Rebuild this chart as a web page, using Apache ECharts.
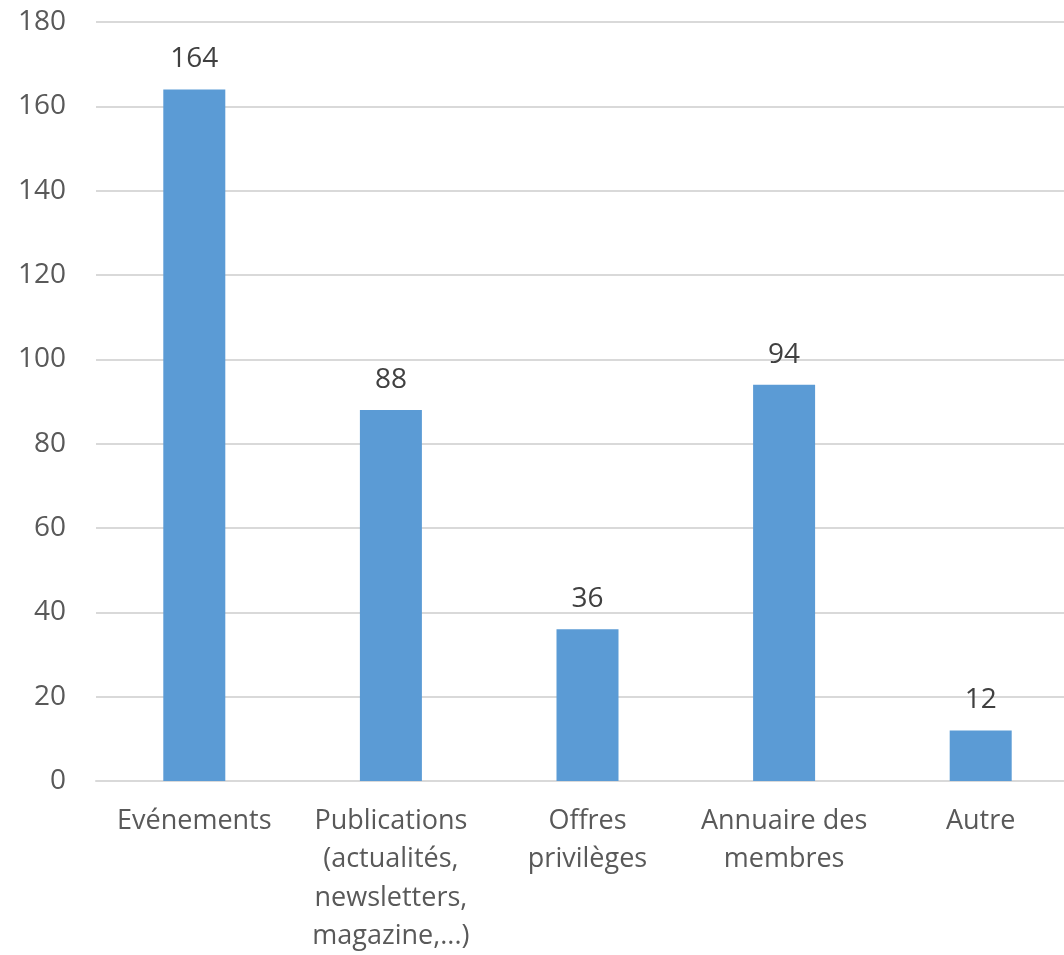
<!DOCTYPE html>
<html><head><meta charset="utf-8">
<script src="https://cdn.jsdelivr.net/npm/echarts@6/dist/echarts.min.js"></script>
<style>html,body{margin:0;padding:0;background:#fff}#c{width:1064px;height:955px}</style>
</head><body><div id="c"></div>
<script>
const categories = ["Evénements", "Publications\n(actualités,\nnewsletters,\nmagazine,...)", "Offres\nprivilèges", "Annuaire des\nmembres", "Autre"];
const values = [164, 88, 36, 94, 12];
const yTicks = {min: 0, max: 180, interval: 20};
const FONT = "Open Sans";
const chart = echarts.init(document.getElementById('c'));
chart.setOption({
  animation: false,
  grid: {left: 96, width: 983, top: 22, height: 759, containLabel: false, outerBoundsMode: 'none'},
  xAxis: {
    type: 'category', data: categories,
    axisLine: {show: true, lineStyle: {color: '#d9d9d9', width: 2}},
    axisTick: {show: false},
    axisLabel: {color: '#595959', fontFamily: FONT, fontSize: 27, lineHeight: 38.5, margin: 21, interval: 0}
  },
  yAxis: {
    type: 'value', min: yTicks.min, max: yTicks.max, interval: yTicks.interval,
    axisLine: {show: false}, axisTick: {show: false},
    splitLine: {lineStyle: {color: '#d9d9d9', width: 2}},
    axisLabel: {color: '#595959', fontFamily: FONT, fontSize: 28, margin: 30}
  },
  series: [{
    type: 'bar', data: values, barWidth: 62,
    itemStyle: {color: '#5b9bd5'},
    label: {show: true, position: 'top', distance: 16, color: '#404040', fontFamily: FONT, fontSize: 28}
  }]
});
</script></body></html>
